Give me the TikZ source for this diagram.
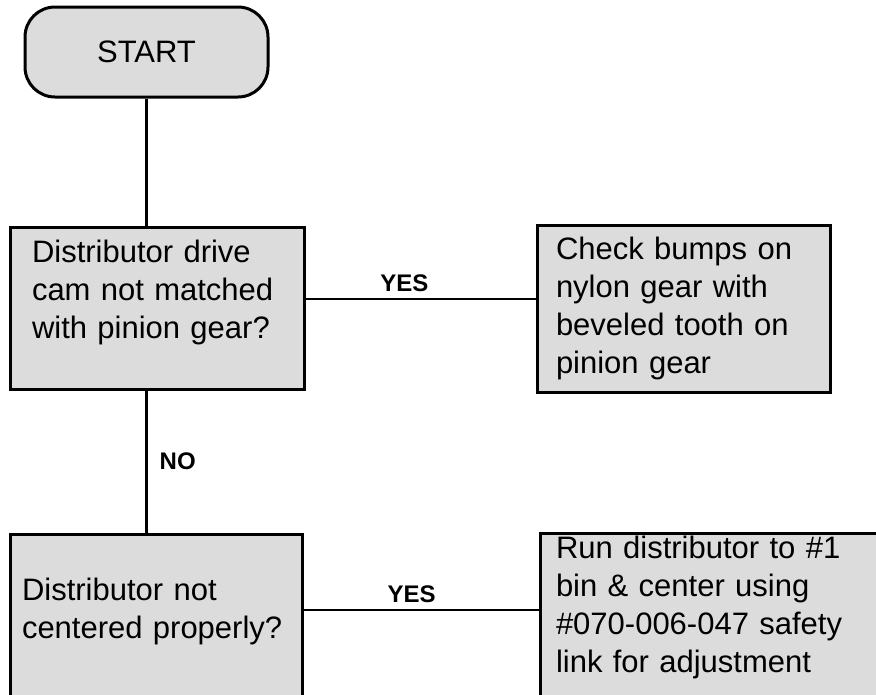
\documentclass[tikz,border=0pt]{standalone}
\definecolor{StippleGray}{HTML}{DCDCDC}
\usepackage{fontspec}
\setmainfont{Liberation Sans}

\begin{document}
\begin{tikzpicture}[x=1pt, y=-1pt,
    chartbox/.style={draw, fill=StippleGray, line width=3pt, inner ysep=0pt, align=left, font=\fontsize{31}{38}\selectfont},
    answer/.style={font=\fontsize{24}{28}\selectfont\bfseries, inner sep=2pt},
    link/.style={line width=2.4pt}]
        \useasboundingbox (0,0) rectangle (876,694);

        % Start terminal
        \node[draw, fill=StippleGray, line width=3pt, rounded corners=30pt, minimum width=243pt, minimum height=90pt, font=\fontsize{31}{36}\selectfont] (start) at (146.5,52) {START};

        % Questions (left column) and what to do (right column)
        \node[chartbox, minimum width=294pt, minimum height=162pt, inner xsep=22pt, text width=250pt, text depth=113pt] (q1) at (157,308) {Distributor drive\\cam not matched\\with pinion gear?};
        \node[chartbox, minimum width=293pt, minimum height=167pt, inner xsep=19pt, text width=255pt] (a1) at (683.5,308.5) {Check bumps on\\nylon gear with\\beveled tooth on\\pinion gear};
        \node[chartbox, minimum width=292pt, minimum height=166pt, inner xsep=12pt, text width=268pt, text depth=55pt] (q2) at (156,617) {Distributor not\\centered properly?};
        \node[chartbox, minimum width=350pt, minimum height=167pt, inner xsep=16pt, text width=318pt, text depth=139pt] (a2) at (715,616.5) {Run distributor to \#1\\bin \& center using\\\#070-006-047 safety\\link for adjustment};

        % Connectors
        \draw[link] (start.south) -- (start.south |- q1.north);
        \draw[link] (start.south |- q1.south) -- (start.south |- q2.north) node[answer, midway, right=10pt] (no) {NO};
        \draw[link] ([yshift=9pt]q1.east) -- ([yshift=9pt]q1.east -| a1.west) node[answer, pos=0.43, above=4pt] (yes1) {YES};
        \draw[link] ([yshift=7pt]q2.east) -- ([yshift=7pt]q2.east -| a2.west) node[answer, pos=0.46, above=4pt] (yes2) {YES};
    \end{tikzpicture}
\end{document}
